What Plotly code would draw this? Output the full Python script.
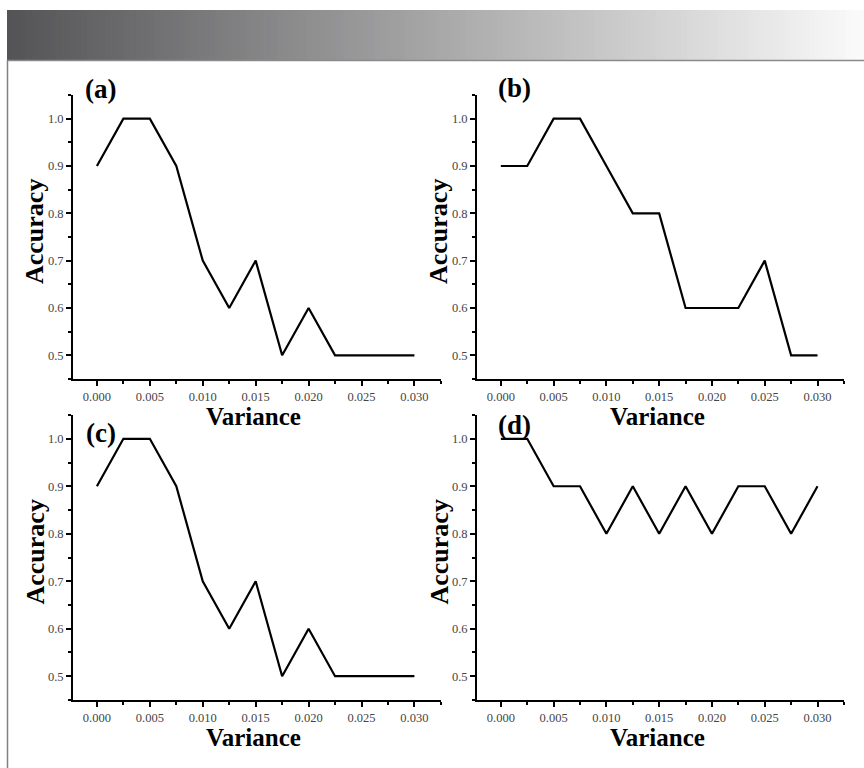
import plotly.graph_objects as go

W, H = 864, 768

variance = [0.0, 0.0025, 0.005, 0.0075, 0.010, 0.0125, 0.015, 0.0175, 0.020, 0.0225, 0.025, 0.0275, 0.030]
acc_a = [0.9, 1.0, 1.0, 0.9, 0.7, 0.6, 0.7, 0.5, 0.6, 0.5, 0.5, 0.5, 0.5]
acc_b = [0.9, 0.9, 1.0, 1.0, 0.9, 0.8, 0.8, 0.6, 0.6, 0.6, 0.7, 0.5, 0.5]
acc_c = [0.9, 1.0, 1.0, 0.9, 0.7, 0.6, 0.7, 0.5, 0.6, 0.5, 0.5, 0.5, 0.5]
acc_d = [1.0, 1.0, 0.9, 0.9, 0.8, 0.9, 0.8, 0.9, 0.8, 0.9, 0.9, 0.8, 0.9]
panel_labels = ["(a)", "(b)", "(c)", "(d)"]
series = [acc_a, acc_b, acc_c, acc_d]

def px_x(x):
    return x / W

def px_y(y):
    return 1 - y / H

# panel boxes in pixels: (left, right, top, bottom)
boxes = [(73, 441, 95, 379), (477, 844, 95, 379), (73, 441, 415, 700), (477, 844, 415, 700)]
# panel label anchor (left x, centre y) in pixels
label_pos = [(83, 89), (496, 88), (84, 433), (496, 425)]

FONT = "Liberation Serif"
fig = go.Figure()
layout = dict(width=W, height=H, margin=dict(l=0, r=0, t=0, b=0), autosize=False,
              paper_bgcolor="white", plot_bgcolor="white", showlegend=False)

annotations = []
shapes = []
for i, (vals, box) in enumerate(zip(series, boxes)):
    n = "" if i == 0 else str(i + 1)
    fig.add_trace(go.Scatter(x=variance, y=vals, mode="lines",
                             line=dict(color="black", width=2.2),
                             xaxis="x" + n, yaxis="y" + n, hoverinfo="skip"))
    l, r, t, b = box
    common = dict(showgrid=False, zeroline=False, showline=True, linecolor="black", linewidth=2,
                  ticks="outside", ticklen=5, tickwidth=2, tickcolor="black",
                  tickfont=dict(family=FONT, size=12.5, color="#454545"))
    layout["xaxis" + n] = dict(domain=[px_x(l), px_x(r)], anchor="y" + n,
                               range=[-0.00226, 0.03251], tick0=0, dtick=0.005, tickformat=".3f",
                               minor=dict(dtick=0.0025, tick0=0, ticks="outside", ticklen=3,
                                          tickwidth=1.5, tickcolor="black"),
                               **common)
    layout["yaxis" + n] = dict(domain=[px_y(b), px_y(t)], anchor="x" + n,
                               range=[0.4499, 1.0501], tick0=0.5, dtick=0.1, tickformat=".1f",
                               minor=dict(dtick=0.05, tick0=0.5, ticks="outside", ticklen=3,
                                          tickwidth=1.5, tickcolor="black"),
                               **common)
    # panel label
    lx, ly = label_pos[i]
    annotations.append(dict(text="<b>%s</b>" % panel_labels[i], xref="paper", yref="paper",
                            x=px_x(lx), y=px_y(ly), xanchor="left", yanchor="middle",
                            showarrow=False, font=dict(family=FONT, size=27, color="black")))
    # y title
    ycen = (t + b) / 2 - 5
    annotations.append(dict(text="<b>Accuracy</b>", xref="paper", yref="paper",
                            x=px_x(l - 38), y=px_y(ycen), textangle=-90,
                            xanchor="center", yanchor="middle",
                            showarrow=False, font=dict(family=FONT, size=26, color="black")))
    # x title
    annotations.append(dict(text="<b>Variance</b>", xref="paper", yref="paper",
                            x=px_x((l + r) / 2 - 3), y=px_y(b + 37),
                            xanchor="center", yanchor="middle",
                            showarrow=False, font=dict(family=FONT, size=25, color="black")))

# decorative header gradient
N = 140
x_start, x_end = 7, W
c0, c1 = (84, 84, 86), (250, 250, 250)
for k in range(N):
    f = k / (N - 1)
    c = tuple(int(round(c0[j] + (c1[j] - c0[j]) * f)) for j in range(3))
    xa = x_start + (x_end - x_start) * k / N
    xb = x_start + (x_end - x_start) * (k + 1) / N + 0.8
    shapes.append(dict(type="rect", xref="paper", yref="paper", x0=px_x(xa), x1=px_x(min(xb, W)),
                       y0=px_y(60), y1=px_y(10), fillcolor="rgb(%d,%d,%d)" % c,
                       line=dict(width=0), layer="below"))
shapes.append(dict(type="line", xref="paper", yref="paper", x0=px_x(7), x1=1, y0=px_y(60.5), y1=px_y(60.5),
                   line=dict(color="#8a8a8a", width=1.5)))
shapes.append(dict(type="line", xref="paper", yref="paper", x0=px_x(7.5), x1=px_x(7.5), y0=px_y(60), y1=0,
                   line=dict(color="#808080", width=1.5)))

layout["annotations"] = annotations
layout["shapes"] = shapes
fig.update_layout(**layout)
fig.write_html("out.html", config={"displayModeBar": False},
               post_script="document.body.style.margin='0';document.body.style.overflow='hidden';")
